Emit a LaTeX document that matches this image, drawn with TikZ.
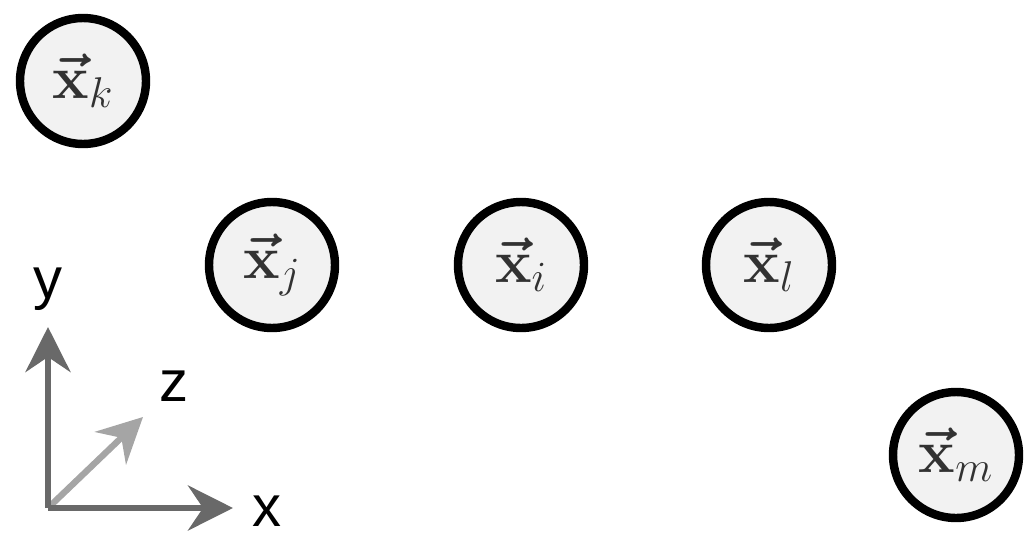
\RequirePackage{fix-cm}
\documentclass[tikz,border=0pt]{standalone}
\usepackage{amsmath,amssymb}
\usepackage{fontspec}
\setsansfont{Liberation Sans}
\usetikzlibrary{arrows.meta,positioning}
\definecolor{nodefill}{RGB}{242,242,242}
\definecolor{axiscolor}{RGB}{105,105,105}
\definecolor{depthcolor}{RGB}{165,165,165}
\definecolor{labelcolor}{RGB}{50,50,50}

\begin{document}
\begin{tikzpicture}[x=0.02cm,y=0.02cm,
    point/.style={circle,draw=black,line width=4.8pt,fill=nodefill,minimum size=2.52cm,
      inner sep=0pt,text=labelcolor,font=\fontsize{35}{40}\selectfont},
    axis/.style={line width=3.6pt,-{Stealth[length=0.9cm,width=0.9cm,inset=0.3cm]}},
    axislabel/.style={font=\sffamily\fontsize{33}{38}\selectfont,text=black}]
    \useasboundingbox (0,0) rectangle (1024,539);
    % particles
    \foreach \n/\x/\y in {k/83/458, j/272/274, i/521/274, l/769/274, m/956/84}{
      \node[point] (x\n) at (\x,\y) {$\boldsymbol{\vec{\mathbf{x}}}_\n$};
    }
    % coordinate frame
    \coordinate (origin) at (48,31);
    \coordinate (xtip) at (233,31);
    \coordinate (ytip) at (48,212);
    \coordinate (ztip) at (143,122);
    \draw[axis,depthcolor] (origin) -- (ztip);
    \draw[axis,axiscolor] (origin) -- (xtip);
    \draw[axis,axiscolor] (origin) -- (ytip);
    \node[axislabel] (xlabel) at (267,28) {x};
    \node[axislabel] (ylabel) at (48,250) {y};
    \node[axislabel] (zlabel) at (174,153) {z};
  \end{tikzpicture}
\end{document}
